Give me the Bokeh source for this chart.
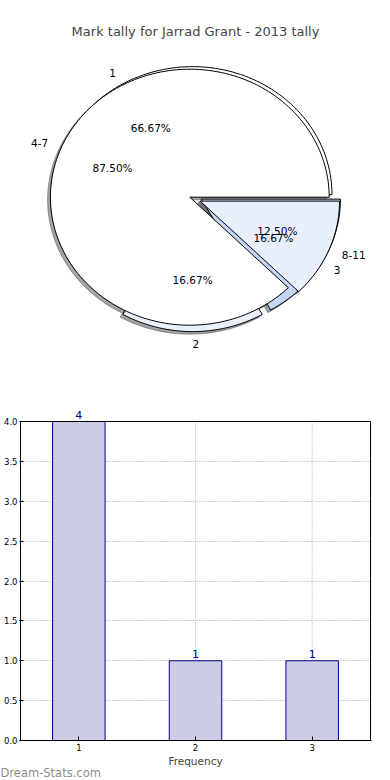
import math
from bokeh.plotting import figure
from bokeh.models import (Range1d, ColumnDataSource, LabelSet, Title,
                          FixedTicker, PrintfTickFormatter)
from bokeh.layouts import column
from bokeh.core.properties import value
from bokeh.embed import file_html
from bokeh.resources import INLINE

# ---------------- data ----------------
TITLE = "Mark tally for Jarrad Grant - 2013 tally"
freq_labels = ["1", "2", "3"]          # outer pie: frequency of tallies
freq_values = [4, 1, 1]
range_labels = ["4-7", "8-11"]         # inner pie: mark ranges
range_values = [7, 1]
bar_categories = [1, 2, 3]
bar_values = [4, 1, 1]
y_ticks = [0.0, 0.5, 1.0, 1.5, 2.0, 2.5, 3.0, 3.5, 4.0]
x_ticks = [1, 2, 3]
X_LABEL = "Frequency"
WATERMARK = "Dream-Stats.com"

# ---------------- styles ----------------
FONT = value("DejaVu Sans")
freq_colors = ["#ffffff", "#e9effc", "#c4d6f6"]
freq_explode = [0.0, 0.07, 0.07]
range_colors = ["#ffffff", "#e9effc"]
range_explode = [0.0, 0.08]

W = 390
SIDE = 19              # left/right border of both figures (frames aligned)
FRAME_L, FRAME_R = SIDE, W - SIDE

# pie layout (page pixels)
PIE_H = 400
PIE_TOP = 43
PX_X, PX_Y = 139.4, 128.0
CX_PAGE, CY_PAGE = 189.3, 196.7
x0 = (FRAME_L - CX_PAGE) / PX_X
x1 = (FRAME_R - CX_PAGE) / PX_X
y1 = (CY_PAGE - PIE_TOP) / PX_Y
y0 = -(PIE_H - CY_PAGE) / PX_Y

pie = figure(width=W, height=PIE_H, x_range=Range1d(x0, x1), y_range=Range1d(y0, y1),
             x_axis_type=None, y_axis_type=None, toolbar_location=None,
             output_backend="svg", min_border_left=SIDE, min_border_right=SIDE,
             min_border_bottom=0, min_border_top=PIE_TOP)
pie.outline_line_color = None
pie.grid.visible = False
pie.title.text = TITLE
pie.title.align = "center"
pie.title.text_font = "DejaVu Sans"
pie.title.text_font_size = "13px"
pie.title.text_font_style = "normal"


def build(values, labels, colors, explode, center):
    total = float(sum(values))
    start = 0.0
    res = dict(xs=[], ys=[], sxs=[], sys=[], color=[], shadow=[],
               lx=[], ly=[], lt=[], la=[], px=[], py=[], pt=[])
    for v, lab, col, e in zip(values, labels, colors, explode):
        frac = v / total
        t1, t2 = start, start + frac
        tm = math.pi * (t1 + t2)
        cx = center[0] + e * math.cos(tm)
        cy = center[1] + e * math.sin(tm)
        n = max(3, int(200 * frac) + 2)
        th = [2 * math.pi * (t1 + (t2 - t1) * k / (n - 1)) for k in range(n)]
        xs = [cx] + [cx + math.cos(t) for t in th]
        ys = [cy] + [cy + math.sin(t) for t in th]
        res["xs"].append(xs)
        res["ys"].append(ys)
        res["sxs"].append([x - 0.02 for x in xs])
        res["sys"].append([y - 0.02 for y in ys])
        res["color"].append(col)
        h = col.lstrip("#")
        r, g, b = (int(h[i:i + 2], 16) for i in (0, 2, 4))
        res["shadow"].append("#%02x%02x%02x" % (int(r * .3), int(g * .3), int(b * .3)))
        lx = cx + 1.1 * math.cos(tm)
        ly = cy + 1.1 * math.sin(tm)
        res["lx"].append(lx)
        res["ly"].append(ly)
        res["lt"].append(lab)
        res["la"].append("left" if lx > 0 else "right")
        res["px"].append(cx + 0.6 * math.cos(tm))
        res["py"].append(cy + 0.6 * math.sin(tm))
        res["pt"].append("%.2f%%" % (frac * 100))
        start = t2
    return res


A = build(freq_values, freq_labels, freq_colors, freq_explode, (0.02, 0.02))
B = build(range_values, range_labels, range_colors, range_explode, (0.0, 0.0))

for d in (A, B):
    pie.patches(xs=d["sxs"], ys=d["sys"], fill_color=d["shadow"], fill_alpha=0.5,
                line_color=d["shadow"], line_alpha=0.5, line_width=1)
for d in (A, B):
    pie.patches(xs=d["xs"], ys=d["ys"], fill_color=d["color"], line_color="black",
                line_width=1)
for d in (A, B):
    pie.text(x=d["lx"], y=d["ly"], text=d["lt"], text_align=d["la"],
             text_baseline="middle", text_font=FONT, text_font_size="10.5px",
             text_color="black")
    pie.text(x=d["px"], y=d["py"], text=d["pt"], text_align="center",
             text_baseline="middle", text_font=FONT, text_font_size="10.5px",
             text_color="black")

# ---------------- bar chart ----------------
BAR_H = 380
BAR_BOTTOM = 40
BOX_TOP_PX = 21        # gap between figure top and the axes box
frame_h = BAR_H - BAR_BOTTOM
y_max = max(y_ticks)
box_h = frame_h - BOX_TOP_PX
y_end = y_max * frame_h / box_h
x_lo, x_hi = min(x_ticks) - 0.5, max(x_ticks) + 0.5
unit_px = (FRAME_R - FRAME_L - 2) / (x_hi - x_lo)
pad = 1.0 / unit_px

bar = figure(width=W, height=BAR_H, x_range=Range1d(x_lo - pad, x_hi + pad),
             y_range=Range1d(0, y_end), toolbar_location=None, output_backend="svg",
             min_border_left=SIDE, min_border_right=SIDE, min_border_top=0,
             min_border_bottom=BAR_BOTTOM)
bar.outline_line_color = None
bar.xgrid.visible = False

# vertical dotted grid limited to the axes box
bar.segment(x0=x_ticks, y0=[0] * len(x_ticks), x1=x_ticks, y1=[y_max] * len(x_ticks),
            line_color="#a0a0a0", line_dash="1 2", line_width=1)
bar.ygrid.ticker = FixedTicker(ticks=y_ticks)
bar.ygrid.grid_line_color = "#a0a0a0"
bar.ygrid.grid_line_dash = "1 2"
bar.ygrid.grid_line_width = 1

src = ColumnDataSource(dict(x=bar_categories, top=bar_values,
                            txt=[str(v) for v in bar_values]))
bar.vbar(x="x", top="top", width=0.45, bottom=0, source=src,
         fill_color="#ccccE5", line_color="#000080", line_width=1)
# axes box
bar.quad(left=[x_lo], right=[x_hi], bottom=[0], top=[y_max], fill_color=None,
         line_color="black", line_width=1)
bar.add_layout(LabelSet(x="x", y="top", text="txt", source=src, y_offset=3,
                        text_align="center", text_baseline="bottom",
                        text_color="#000080", text_font=FONT,
                        text_font_size="11px"))

for ax in (bar.xaxis[0], bar.yaxis[0]):
    ax.major_tick_in = 4
    ax.major_tick_out = 0
    ax.minor_tick_line_color = None
    ax.major_label_text_font = "DejaVu Sans"
    ax.major_label_text_font_size = "8.5px"
    ax.major_label_text_color = "black"
    ax.major_tick_line_color = "black"
bar.yaxis.axis_line_color = None
bar.xaxis.axis_line_color = "black"
bar.xaxis.ticker = FixedTicker(ticks=x_ticks)
bar.yaxis.ticker = FixedTicker(ticks=y_ticks)
bar.yaxis.formatter = PrintfTickFormatter(format="%.1f")
bar.yaxis.major_label_standoff = 2
bar.xaxis.major_label_standoff = 3
bar.xaxis.axis_label = X_LABEL
bar.xaxis.axis_label_text_font = "DejaVu Sans"
bar.xaxis.axis_label_text_font_size = "10.5px"
bar.xaxis.axis_label_text_font_style = "normal"
bar.xaxis.axis_label_standoff = 1

bar.add_layout(Title(text=WATERMARK, align="left", offset=-SIDE, standoff=-12,
                     text_font="DejaVu Sans", text_font_size="11.5px",
                     text_font_style="normal", text_color="#8c8c8c"), "below")

layout = column(pie, bar, spacing=0)
open("out.html", "w").write(file_html(layout, INLINE))
